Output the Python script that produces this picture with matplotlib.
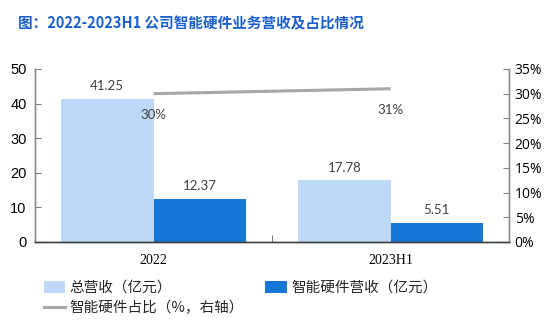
import matplotlib
matplotlib.use("Agg")
import matplotlib.pyplot as plt
from matplotlib.lines import Line2D
from matplotlib.patches import Patch
import numpy as np

categories = ["2022", "2023H1"]
total_revenue = [41.25, 17.78]      # 总营收（亿元）
hardware_revenue = [12.37, 5.51]    # 智能硬件营收（亿元）
hardware_share = [30, 31]           # 智能硬件占比（%）
left_ticks = [0, 10, 20, 30, 40, 50]
right_ticks = [0, 5, 10, 15, 20, 25, 30, 35]

CJK = ["Noto Sans CJK SC", "DejaVu Sans"]
LIGHT = "#BDD9F7"
DARK = "#1677D6"
GRAY = "#A6A6A6"

fig = plt.figure(figsize=(5.54, 3.30), dpi=100)
ax = fig.add_axes([0.0632, 0.2667, 0.8556, 0.5243])
ax2 = ax.twinx()

x = np.arange(len(categories))
w = 0.39
b1 = ax.bar(x - w / 2, total_revenue, w, color=LIGHT, zorder=2)
b2 = ax.bar(x + w / 2, hardware_revenue, w, color=DARK, zorder=2)

for rect, v in zip(list(b1) + list(b2), total_revenue + hardware_revenue):
    ax.annotate(f"{v:.2f}", (rect.get_x() + rect.get_width() / 2, v),
                xytext=(0, 5), textcoords="offset points",
                ha="center", va="bottom", fontsize=9.5, family="Lato", color="#404040")

ax2.plot(x, hardware_share, color=GRAY, lw=2.2, solid_capstyle="butt", zorder=3)
for xi, v in zip(x, hardware_share):
    ax2.annotate(f"{v}%", (xi, v), xytext=(0, -11), textcoords="offset points",
                 ha="center", va="top", fontsize=9.5, family="Lato", color="#404040")

ax.set_xlim(-0.5, 1.5)
ax.set_ylim(0, 50)
ax2.set_ylim(0, 35)
ax.set_yticks(left_ticks)
ax2.set_yticks(right_ticks)
ax2.set_yticklabels([f"{t}%" for t in right_ticks])

ax.set_xticks(x)
ax.set_xticklabels(categories, family="Liberation Serif", fontsize=10)
ax.set_xticks([0.5], minor=True)
ax.tick_params(axis="x", which="major", length=0, pad=9)
ax.tick_params(axis="x", which="minor", direction="in", length=5, color="#595959")

ax.tick_params(axis="y", direction="in", length=4, color="#7F7F7F", labelsize=10.5, pad=6)
ax2.tick_params(axis="y", direction="in", length=4, color="#7F7F7F", labelsize=10.5, pad=4)
for lab in ax.get_yticklabels():
    lab.set_family("Liberation Sans")
for lab in ax2.get_yticklabels():
    lab.set_family("Open Sans")
    lab.set_fontsize(10)

for a in (ax, ax2):
    a.spines["top"].set_visible(False)
    for s in ("left", "right"):
        a.spines[s].set_color("#8C8C8C")
        a.spines[s].set_linewidth(1.0)
    a.spines["bottom"].set_color("#404040")
    a.spines["bottom"].set_linewidth(1.0)

fig.text(0.033, 0.93, "图：2022-2023H1 公司智能硬件业务营收及占比情况",
         family=["Noto Sans CJK SC", "DejaVu Sans"], fontsize=10.5, fontweight="bold",
         color="#1A5FD0", va="center", ha="left")

legend_font = {"family": CJK, "size": 10.5}
h1 = Patch(facecolor=LIGHT)
h2 = Patch(facecolor=DARK)
h3 = Line2D([], [], color=GRAY, lw=2.2)
leg1 = fig.legend([h1], ["总营收（亿元）"], loc="center left", bbox_to_anchor=(0.055, 0.127),
                  frameon=False, prop=legend_font, handlelength=1.5, handleheight=0.8, handletextpad=0.3)
leg2 = fig.legend([h2], ["智能硬件营收（亿元）"], loc="center left", bbox_to_anchor=(0.455, 0.127),
                  frameon=False, prop=legend_font, handlelength=1.5, handleheight=0.8, handletextpad=0.3)
leg3 = fig.legend([h3], ["智能硬件占比（%，右轴）"], loc="center left", bbox_to_anchor=(0.055, 0.068),
                  frameon=False, prop=legend_font, handlelength=1.5, handletextpad=0.3)
for lg in (leg1, leg2, leg3):
    for t in lg.get_texts():
        t.set_color("#262626")

fig.savefig("out.png", dpi=100)
